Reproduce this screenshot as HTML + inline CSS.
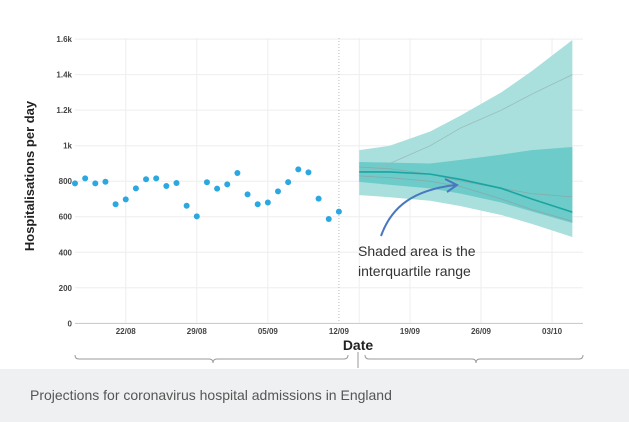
<!DOCTYPE html>
<html><head><meta charset="utf-8"><style>
body{margin:0;width:629px;height:422px;background:#fff;overflow:hidden;font-family:"Liberation Sans",sans-serif}
#cap{position:absolute;left:0;top:369px;width:629px;height:53px;background:#eef0f2}
#cap span{position:absolute;left:30px;top:18px;font-size:14px;color:#555}
</style></head><body>
<svg id="chart" width="629" height="370" style="position:absolute;left:0;top:0"></svg>
<div id="cap"><span>Projections for coronavirus hospital admissions in England</span></div>
<script>
const obsValues=[788,816,788,797,670,698,760,811,816,773,790,662,602,794,758,782,846,726,670,680,743,795,867,850,702,587,629];
const projDays=[28,31,35,38,42,45,49];
const outerUpper=[975,1000,1080,1170,1300,1420,1595];
const outerLower=[722,710,690,660,610,560,486];
const iqrUpper=[908,905,900,920,950,975,993];
const iqrLower=[796,780,760,730,680,630,565];
const median=[852,852,840,810,760,700,626];
const greyRise=[852,900,1000,1100,1200,1290,1400];
const greyMid=[880,870,840,800,760,730,712];
const greyLow=[830,820,800,770,700,640,575];
const yTicks=[0,200,400,600,800,1000,1200,1400,1600];
const yTickLabels=["0","200","400","600","800","1k","1.2k","1.4k","1.6k"];
const xTickDays=[5,12,19,26,33,40,47];
const xTickLabels=["22/08","29/08","05/09","12/09","19/09","26/09","03/10"];
const NS="http://www.w3.org/2000/svg",svg=document.getElementById('chart');
const x=d=>75+d*10.15, y=v=>323.3-v*0.1776;
function el(t,a,p){const e=document.createElementNS(NS,t);for(const k in a)e.setAttribute(k,a[k]);(p||svg).appendChild(e);return e;}
yTicks.forEach((v,i)=>{
 const g=el('line',{x1:75,x2:583,y1:y(v),y2:y(v),stroke:'#eee'});
 
 
 const t=el('text',{x:72,y:y(v)+3,'text-anchor':'end','font-size':8,'font-weight':'bold',fill:'#444'});t.textContent=yTickLabels[i];
 
 
});
xTickDays.forEach((d,i)=>{
 const g=el('line',{x1:x(d),x2:x(d),y1:38,y2:323,stroke:i==3?'#bbb':'#eee','stroke-dasharray':i==3?'1,2':''});
 
 
 const t=el('text',{x:x(d),y:334,'text-anchor':'middle','font-size':8,'font-weight':'bold',fill:'#444'});t.textContent=xTickLabels[i];
 
 
});
const g0=el('line',{x1:x(28),x2:x(28),y1:38,y2:323,stroke:'#eee'});


const ax=el('line',{x1:75,x2:583,y1:323.5,y2:323.5,stroke:'#ccc'});


function band(u,l,c,name){
 let d='M'+projDays.map((dd,i)=>x(dd)+','+y(u[i])).join('L');
 for(let i=projDays.length-1;i>=0;i--)d+='L'+x(projDays[i])+','+y(l[i]);
 const p=el('path',{d:d+'Z',fill:c});
 
 
}
function line(v,c,w,name){
 const p=el('path',{d:'M'+projDays.map((dd,i)=>x(dd)+','+y(v[i])).join('L'),fill:'none',stroke:c,'stroke-width':w});
 
 
}
band(outerUpper,outerLower,'#a9dfdc','outer-range-band');
band(iqrUpper,iqrLower,'#6dcbc9','interquartile-band');
line(greyRise,'#9bb','0.8','scenario-line-high');
line(greyMid,'#8aa','0.8','scenario-line-mid');
line(greyLow,'#8aa','0.8','scenario-line-low');
line(median,'#1aa5a0','1.6','median-line');
obsValues.forEach((v,i)=>{
 const c=el('circle',{cx:x(i),cy:y(v),r:3,fill:'#2ba8e0'});
 
 
});
const ar=el('path',{d:'M381,236 C392,205 415,190 455,185 M445,179 L457,185 L447,192',fill:'none',stroke:'#4a78c0','stroke-width':2});


[['Shaded area is the',256],['interquartile range',276]].forEach(a=>{
 const t=el('text',{x:358,y:a[1],'font-size':14,fill:'#333'});t.textContent=a[0];
 
 
});
const yl=el('text',{x:0,y:0,transform:'translate(34,176) rotate(-90)','text-anchor':'middle','font-size':13,'font-weight':'bold',fill:'#222'});yl.textContent='Hospitalisations per day';


const xl=el('text',{x:358,y:350,'text-anchor':'middle','font-size':14,'font-weight':'bold',fill:'#222'});xl.textContent='Date';


const br=el('path',{d:'M75,355 Q75,359 79,359 L209,359 Q213,359 213,363 Q213,359 217,359 L344,359 Q348,359 348,355 M365,355 Q365,359 369,359 L472,359 Q476,359 476,363 Q476,359 480,359 L579,359 Q583,359 583,355 M358,352 L358,368',fill:'none',stroke:'#999','stroke-width':1});


</script>
</body></html>
